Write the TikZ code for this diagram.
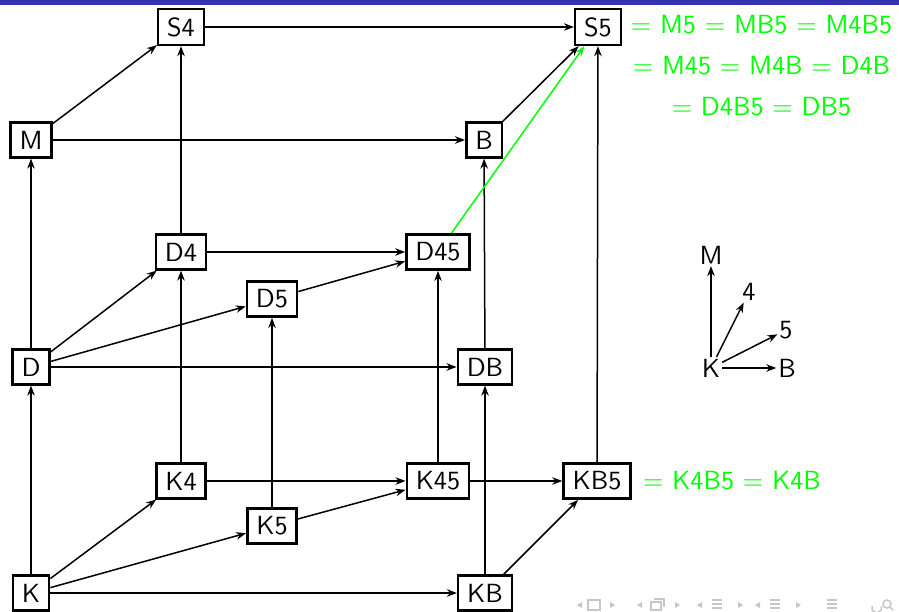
\documentclass[tikz,border=0pt]{standalone}
\usetikzlibrary{positioning, arrows.meta}
\usepackage{xcolor}
\definecolor{BarBlue}{HTML}{3333B3}

\begin{document}
\begin{tikzpicture}[x=0.4pt, y=-0.4pt,
  font=\sffamily\fontsize{10.5}{13}\selectfont,
  box/.style={draw, line width=1pt, fill=white, inner xsep=3.6pt, inner ysep=3.3pt},
  arr/.style={-{Stealth[length=4pt, width=3pt]}, semithick},
  eqtext/.style={text=green, align=center},
  dirlabel/.style={inner sep=0.6pt}]
  \useasboundingbox (0,0) rectangle (899,612);

  % Balken oben
  \fill[BarBlue] (0,0) rectangle (899,5);

  % Knoten
  \foreach \name/\x/\y in {S4/181/27, S5/598/27, M/31/140, B/484/140,
      D4/181/252, D45/438/252, D5/272/299, D/31/367, DB/485/367,
      K4/181/481, K45/438/481, KB5/597/481, K5/272/526, K/31/593, KB/485/593}
    \node[box] (\name) at (\x,\y) {\name};

  % Pfeile
  \foreach \a/\b in {M/S4, S4/S5, B/S5, M/B, D/M, D4/S4, D4/D45, D/D4, D/D5,
      D5/D45, D/DB, DB/B, K/D, K4/D4, K5/D5, K45/D45, KB/DB, KB5/S5,
      K/K4, K/K5, K/KB, K4/K45, K5/K45, K45/KB5, KB/KB5}
    \draw[arr] (\a) -- (\b);
  \draw[arr, green] (D45) -- (S5);

  % Gleichheiten
  \node[eqtext, anchor=west] (eqS) at (622,65.5)
    {= M5 = MB5 = M4B5\\[3.5pt] = M45 = M4B = D4B\\[3.5pt] = D4B5 = DB5};
  \node[eqtext, right=1pt of KB5] (eqK) {= K4B5 = K4B};

  % Richtungen
  \node[dirlabel] (lK) at (711,368) {K};
  \node[dirlabel] (lM) at (711,255) {M};
  \node[dirlabel] (l4) at (749,292) {4};
  \node[dirlabel] (l5) at (786,330) {5};
  \node[dirlabel] (lB) at (787,368) {B};
  \foreach \t in {lM, l4, l5, lB}
    \draw[arr] (lK) -- (\t);

  % Navigation
  \begin{scope}[gray!45, line width=0.6pt]
    \foreach \x in {577, 637, 697, 755} {
      \fill (\x,605) -- (\x+5,602) -- (\x+5,608) -- cycle;
    }
    \foreach \x in {610, 675, 738, 796} {
      \fill (\x+5,605) -- (\x,602) -- (\x,608) -- cycle;
    }
    \draw (588,600) rectangle (600,610);
    \draw (651,602) rectangle (661,610) (654,599) -- (664,599) -- (664,607);
    \foreach \x in {712, 770, 827}
      \draw (\x,600) -- (\x+10,600) (\x,604) -- (\x+10,604) (\x,608) -- (\x+10,608);
    \draw (872,606) arc[start angle=200, end angle=-20, radius=5];
    \draw (887,604) circle (4) (890,607) -- (893,610);
  \end{scope}
\end{tikzpicture}
\end{document}
